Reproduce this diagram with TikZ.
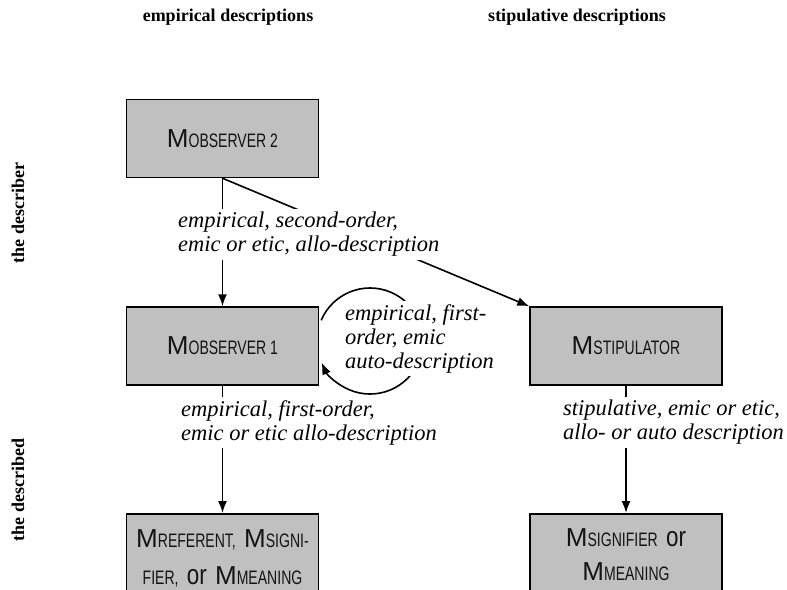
\documentclass[tikz,border=0pt]{standalone}
\usepackage{fontspec}
\setmainfont{Liberation Serif}
\newfontfamily\boxsans{Liberation Sans}
\newfontfamily\boxsansnarrow[FakeStretch=0.72]{Liberation Sans}
\newfontfamily\orsans[FakeStretch=0.8]{Liberation Sans}
\usetikzlibrary{arrows.meta,calc}

\definecolor{boxgray}{RGB}{192,192,192}
\definecolor{boxink}{RGB}{20,20,20}

% M with a small-capital subscript word
\newcommand\bigM{{\fontsize{26}{38}\boxsans M}}
\newcommand\capsub[1]{{\fontsize{19.5}{38}\boxsansnarrow #1}}
\newcommand\Mterm[1]{\bigM\capsub{#1}}
\newcommand\orword{{\fontsize{28}{38}\orsans or}}

\tikzset{
  x=1pt, y=1pt,
  mbox/.style={draw=black, line width=1.5pt, fill=boxgray, text=boxink,
    minimum width=192pt, minimum height=78pt, inner sep=0pt, align=center},
  lowbox/.style={mbox, anchor=north, minimum height=0pt, text width=180pt,
    inner xsep=6pt, inner ysep=16pt, font=\fontsize{25}{37}\selectfont},
  conn/.style={line width=1.6pt, -{Latex[length=12pt,width=9pt]}},
  lbl/.style={fill=white, inner sep=3pt, align=left, anchor=north west,
    font=\fontsize{22.5}{24}\selectfont\itshape},
  head/.style={font=\fontsize{18}{20}\selectfont\bfseries},
}

\begin{document}
\begin{tikzpicture}
\useasboundingbox (0,0) rectangle (787,-589);

% column and row headings
\node[head] (hemp) at (228,-17) {empirical descriptions};
\node[head] (hstip) at (577,-17) {stipulative descriptions};
\node[head, rotate=90] (hdescriber) at (18,-213) {the describer};
\node[head, rotate=90] (hdescribed) at (18,-490) {the described};

% boxes
\node[mbox] (obs2) at (222.5,-138.5) {\Mterm{OBSERVER 2}};
\node[mbox] (obs1) at (222.5,-346) {\Mterm{OBSERVER 1}};
\node[mbox] (stip) at (626,-346) {\Mterm{STIPULATOR}};
\node[lowbox] (refs) at (222.5,-513)
  {\Mterm{REFERENT,} \Mterm{SIGNI-}\\\capsub{FIER,} \orword{} \Mterm{MEANING}};
\node[lowbox, inner ysep=15pt, font=\fontsize{25}{34}\selectfont] (sigs) at (626,-513)
  {\Mterm{SIGNIFIER} \orword\\\Mterm{MEANING}};

% connectors
\draw[conn] (obs2.south) -- (obs1.north);
\draw[conn] (obs2.south) -- (stip.north west);
\draw[conn] (obs1.south) -- (refs.north);
\draw[conn] (stip.south) -- (sigs.north);
\coordinate (loopc) at (370,-341);
\draw[conn] ($(loopc)+(157:53)$) arc[start angle=157, end angle=-156, radius=53];

% connector labels
\node[lbl] (l2nd) at (175,-209) {empirical, second-order,\\emic or etic, allo-description};
\node[lbl] (l1st) at (178,-397) {empirical, first-order,\\emic or etic allo-description};
\node[lbl] (lstip) at (560,-397) {stipulative, emic or etic,\\allo- or auto description};
\node[lbl] (lauto) at (342,-301) {empirical, first-\\order, emic\\auto-description};
\end{tikzpicture}
\end{document}
